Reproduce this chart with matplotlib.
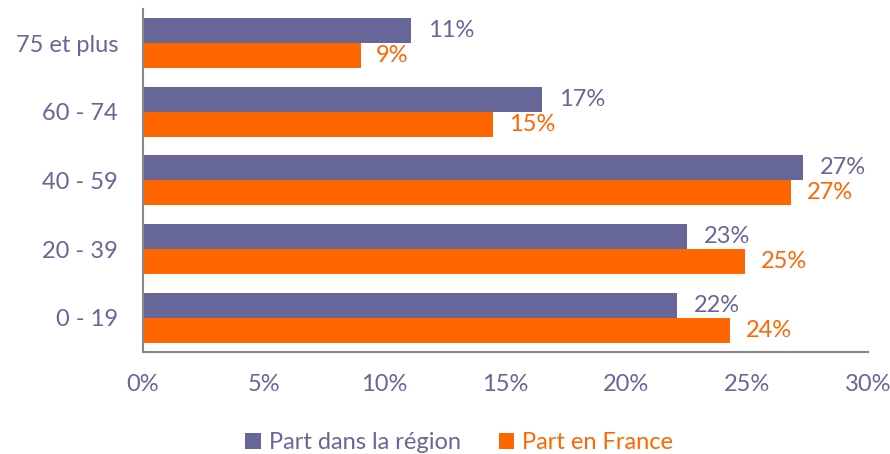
import matplotlib.pyplot as plt
import numpy as np

plt.rcParams['font.family'] = ['Lato', 'DejaVu Sans']

categories = ["0 - 19", "20 - 39", "40 - 59", "60 - 74", "75 et plus"]
region = [22.1, 22.5, 27.3, 16.5, 11.1]
france = [24.3, 24.9, 26.8, 14.5, 9.0]
region_labels = ["22%", "23%", "27%", "17%", "11%"]
france_labels = ["24%", "25%", "27%", "15%", "9%"]

purple = "#666699"
orange = "#ff6600"
grey = "#868686"

fig = plt.figure(figsize=(8.9, 4.54), dpi=100)
ax = fig.add_axes([0.1607, 0.2247, 0.8146, 0.756])

y = np.arange(len(categories))
h = 0.364
ax.barh(y + h / 2, region, height=h, color=purple, label="Part dans la région")
ax.barh(y - h / 2, france, height=h, color=orange, label="Part en France")

for i in range(len(categories)):
    ax.text(region[i] + 0.7, y[i] + h / 2, region_labels[i], color=purple,
            fontsize=17, va="center", ha="left")
    ax.text(france[i] + 0.65, y[i] - h / 2, france_labels[i], color=orange,
            fontsize=17, va="center", ha="left")

ax.set_xlim(0, 30)
ax.set_ylim(-0.5, 4.5)
ax.set_yticks(y)
ax.set_yticklabels(categories)
ax.set_xticks(np.arange(0, 31, 5))
ax.set_xticklabels([f"{v}%" for v in range(0, 31, 5)])
ax.tick_params(axis="both", length=0, labelsize=17, labelcolor=purple)
ax.tick_params(axis="x", pad=16)
ax.tick_params(axis="y", pad=18)

for s in ["top", "right"]:
    ax.spines[s].set_visible(False)
for s in ["left", "bottom"]:
    ax.spines[s].set_color(grey)
    ax.spines[s].set_linewidth(1.5)

leg = fig.legend(loc="lower center", bbox_to_anchor=(0.516, -0.045), ncol=2,
                 frameon=False, fontsize=17, handlelength=0.65, handleheight=0.65,
                 columnspacing=1.6, handletextpad=0.35)
leg.get_texts()[0].set_color(purple)
leg.get_texts()[1].set_color(orange)

fig.savefig("out.png", dpi=100)
